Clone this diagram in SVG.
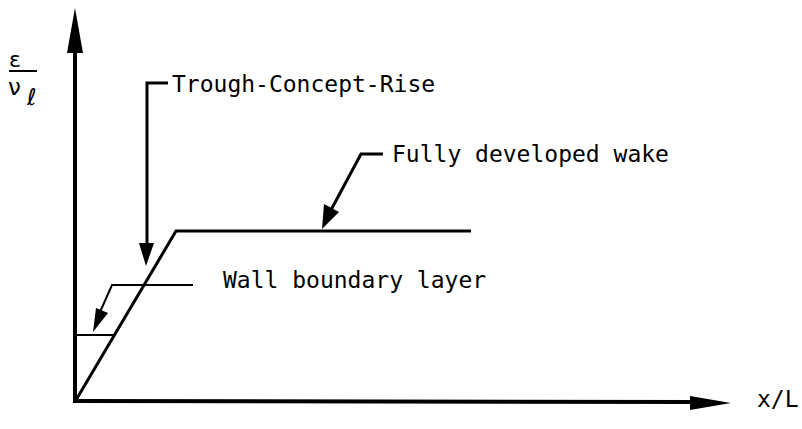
<svg xmlns="http://www.w3.org/2000/svg" width="802" height="429" viewBox="0 0 802 429">
<style>
.ax{stroke:#000;stroke-width:4;fill:none;stroke-linecap:square}
.ln{stroke:#000;stroke-width:3;fill:none;stroke-linejoin:miter}
.th{stroke:#000;stroke-width:2;fill:none}
.t{font-family:"DejaVu Sans Mono","Liberation Mono",monospace;font-size:23px;fill:#000}
.s{font-family:"DejaVu Sans","Liberation Sans",sans-serif;fill:#000}
</style>
<rect width="802" height="429" fill="#fff"/>
<g id="axes">
<line class="ax" x1="75" y1="401" x2="75" y2="50"/>
<polygon points="75,8 67,53 83,53" fill="#000"/>
<line class="ax" x1="75" y1="401" x2="695" y2="402"/>
<polygon points="731,403 690,396 690,410" fill="#000"/>
<text class="t" x="757" y="407">x/L</text>
<g id="ylabel">
<text class="s" x="9" y="67" font-size="22">ε</text>
<line x1="9" y1="71" x2="37" y2="71" stroke="#000" stroke-width="2"/>
<text class="s" x="8" y="95" font-size="23">ν</text>
<text class="s" x="27" y="105" font-size="23" font-style="italic">ℓ</text>
</g>
</g>
<g id="curve">
<polyline class="ln" points="76,400 176,231 471,231"/>
<line class="th" x1="75" y1="335" x2="114" y2="335"/>
</g>
<g id="connectors">
<polyline class="ln" points="168,83 147,83 147,245"/>
<polygon points="146,266 139,243 154,243" fill="#000"/>
<polyline class="ln" points="383,154 361,154 331,210"/>
<polygon points="322,229 324,204 339,212" fill="#000"/>
<polyline class="th" points="193,285 112,285 100,312"/>
<polygon points="93,332 96,308 108,313" fill="#000"/>
</g>
<g id="label-trough"><text class="t" x="172" y="92">Trough-Concept-Rise</text></g>
<g id="label-wake"><text class="t" x="392" y="162">Fully developed wake</text></g>
<g id="label-wall"><text class="t" x="223" y="288">Wall boundary layer</text></g>
</svg>
